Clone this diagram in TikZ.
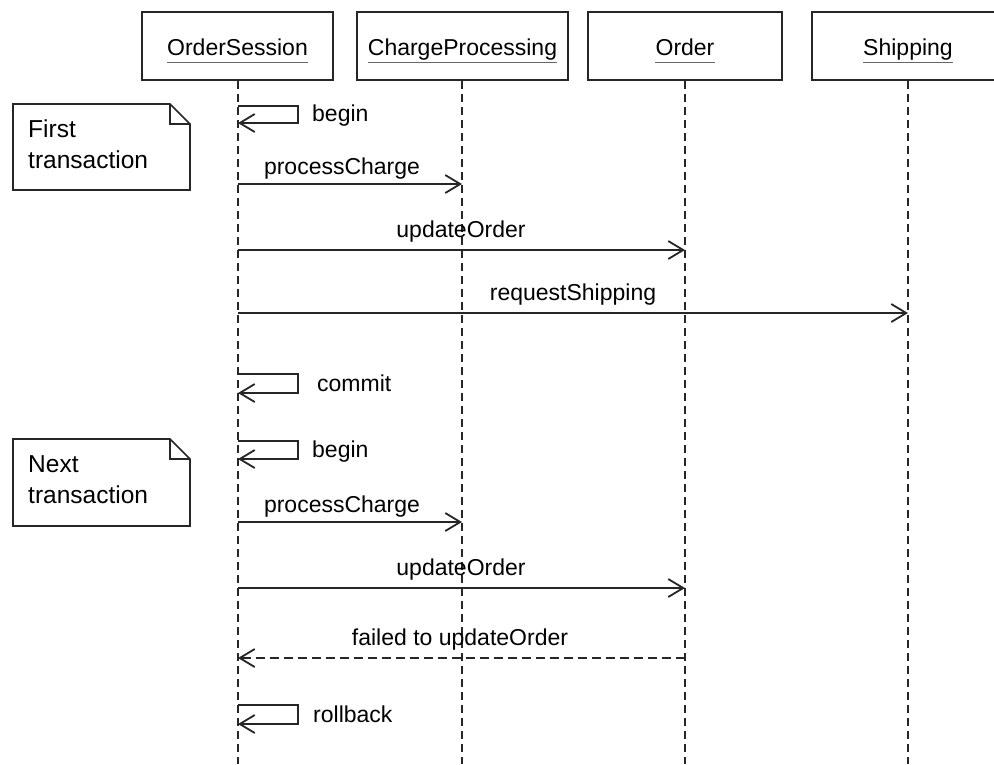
\documentclass[tikz,border=0pt]{standalone}
\usepackage{fontspec}
\setmainfont{Liberation Sans}
\usetikzlibrary{arrows.meta}
\newcommand\dfont{\fontsize{23}{30}\selectfont}
\newcommand\nfont{\fontsize{24.5}{31}\selectfont}
\tikzset{
  ink/.style={draw=black!85},
  classbox/.style={ink, line width=1.8pt, minimum height=68pt, inner sep=0pt},
  classname/.style={anchor=base, inner sep=0pt, font=\dfont, text=black},
  uline/.style={draw=black!60, line width=1.3pt},
  lifeline/.style={ink, line width=1.5pt, dash pattern=on 8pt off 5pt},
  msg/.style={ink, line width=1.6pt, -{Straight Barb[length=15pt,width=18pt,line width=1.8pt]}},
  reply/.style={msg, dash pattern=on 9pt off 5pt},
  mlabel/.style={anchor=base, inner sep=0pt, font=\dfont, text=black},
  slabel/.style={anchor=base west, inner sep=0pt, font=\dfont, text=black},
  notebox/.style={ink, line width=1.6pt, fill=white},
  notetext/.style={anchor=base west, inner sep=0pt, font=\nfont, text=black},
}
\begin{document}
\begin{tikzpicture}[x=1pt, y=-1pt]
\useasboundingbox[fill=white] (0,0) rectangle (994,764);

% class boxes
\node[classbox, minimum width=191pt] (osB) at (237.5,46) {};
\node[classbox, minimum width=211pt] (cpB) at (462.5,46) {};
\node[classbox, minimum width=194pt] (orB) at (685,46) {};
\node[classbox, minimum width=192pt] (shB) at (908,46) {};

\node[classname] (osT) at (237.5,55) {OrderSession};
\node[classname] (cpT) at (462.5,55) {ChargeProcessing};
\node[classname] (orT) at (685,55) {Order};
\node[classname] (shT) at (908,55) {Shipping};
\foreach \t in {osT,cpT,orT,shT}
  \draw[uline] ([yshift=-7.5pt]\t.base west) -- ([yshift=-7.5pt]\t.base east);

% lifelines
\coordinate (osE) at (238,764);
\coordinate (cpE) at (462,764);
\coordinate (orE) at (685,764);
\coordinate (shE) at (908,764);
\draw[lifeline] (osB.south -| osE) -- (osE);
\draw[lifeline] (cpB.south -| cpE) -- (cpE);
\draw[lifeline] (orB.south -| orE) -- (orE);
\draw[lifeline] (shB.south -| shE) -- (shE);

% notes
\draw[notebox] (13,104) coordinate (n1) -- (170,104) -- (190,124) -- (190,190) -- (13,190) -- cycle;
\draw[ink, line width=1.3pt] (170,104) -- (170,124) -- (190,124);
\node[notetext] (n1a) at (28,137) {First};
\node[notetext] (n1b) at (28,168) {transaction};

\draw[notebox] (13,439) coordinate (n2) -- (170,439) -- (190,459) -- (190,526) -- (13,526) -- cycle;
\draw[ink, line width=1.3pt] (170,439) -- (170,459) -- (190,459);
\node[notetext] (n2a) at (28,472) {Next};
\node[notetext] (n2b) at (28,503) {transaction};

% self messages
\foreach \name/\top/\bot/\lx/\txt in {b1/106/123/312/begin, cm/374/393/317/commit, b2/441/459/312/begin, rb/705/724/313/rollback}{
  \coordinate (\name s) at (238,\top);
  \coordinate (\name r) at (298,\top);
  \coordinate (\name q) at (298,\bot);
  \coordinate (\name e) at (238,\bot);
  \draw[msg] (\name s) -- (\name r) -- (\name q) -- (\name e);
  \node[slabel] (\name L) at (\lx,\bot-2) {\txt};
}

% messages
\coordinate (pc1s) at (238,184); \coordinate (pc1e) at (462,184);
\draw[msg] (pc1s) -- (pc1e);
\node[mlabel] (pc1L) at (342,174) {processCharge};

\coordinate (uo1s) at (238,250); \coordinate (uo1e) at (685,250);
\draw[msg] (uo1s) -- (uo1e);
\node[mlabel] (uo1L) at (461,237) {updateOrder};

\coordinate (rss) at (238,313); \coordinate (rse) at (908,313);
\draw[msg] (rss) -- (rse);
\node[mlabel] (rsL) at (573,300) {requestShipping};

\coordinate (pc2s) at (238,522); \coordinate (pc2e) at (462,522);
\draw[msg] (pc2s) -- (pc2e);
\node[mlabel] (pc2L) at (342,512) {processCharge};

\coordinate (uo2s) at (238,588); \coordinate (uo2e) at (685,588);
\draw[msg] (uo2s) -- (uo2e);
\node[mlabel] (uo2L) at (461,575) {updateOrder};

\coordinate (fls) at (685,658); \coordinate (fle) at (238,658);
\draw[reply] (fls) -- (fle);
\node[mlabel] (flL) at (460,645) {failed to updateOrder};
\end{tikzpicture}
\end{document}
